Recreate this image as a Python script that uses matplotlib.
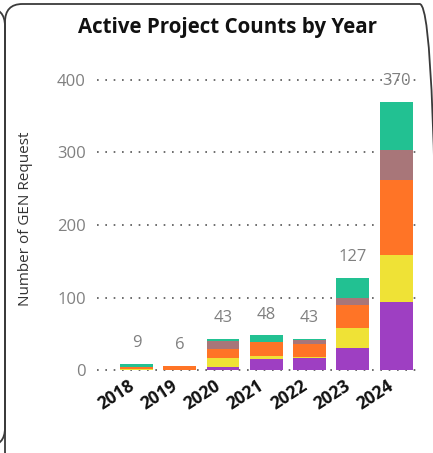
import matplotlib
matplotlib.use("Agg")
import matplotlib.pyplot as plt
from matplotlib.patches import FancyBboxPatch
import matplotlib.transforms as mtransforms
import numpy as np

years = ["2018", "2019", "2020", "2021", "2022", "2023", "2024"]
purple = [0, 0, 4, 15, 16, 31, 94]
yellow = [1, 0, 12, 4, 2, 27, 65]
orange = [3, 6, 13, 19, 18, 32, 103]
brown = [0, 0, 11, 0, 5, 10, 42]
green = [5, 0, 3, 10, 2, 27, 66]
totals = [9, 6, 43, 48, 43, 127, 370]
series = [purple, yellow, orange, brown, green]
colors = ["#9E3FC2", "#EFE236", "#FF7426", "#A87679", "#22C192"]

plt.rcParams['font.family'] = ['Open Sans', 'DejaVu Sans']

fig = plt.figure(figsize=(4.33, 4.53), dpi=100)
W, H = 433, 453

card = FancyBboxPatch((5 / W, 1 - 470 / H), 432 / W, 466 / H,
                      boxstyle="round,pad=0,rounding_size=0.04",
                      transform=fig.transFigure, fill=False,
                      edgecolor="#3a3a3a", linewidth=1.3, zorder=0)
fig.patches.append(card)
card2 = FancyBboxPatch((-200 / W, 1 - 446 / H), 205 / W, 438 / H,
                       boxstyle="round,pad=0,rounding_size=0.04",
                       transform=fig.transFigure, fill=False,
                       edgecolor="#3a3a3a", linewidth=1.3, zorder=0)
fig.patches.append(card2)

ax = fig.add_axes([97 / W, 1 - 371.5 / H, 323 / W, 299.5 / H])
x = np.arange(len(years))
bottom = np.zeros(len(years))
for vals, c in zip(series, colors):
    ax.bar(x, vals, bottom=bottom, color=c, width=0.76, zorder=3)
    bottom += np.array(vals)

for xi, t in zip(x, totals):
    ax.annotate(str(t), (xi, t), xytext=(0, 9), textcoords="offset points",
                ha="center", va="bottom", fontsize=12, color="#808080", zorder=1)

ax.set_xlim(-0.91, 6.55)
ax.set_ylim(-2, 411)
ax.set_yticks([0, 100, 200, 300, 400])
ax.yaxis.grid(True, linestyle=(0, (1, 4)), color="#555555", linewidth=1.2, zorder=0)
ax.set_axisbelow(True)
for s in ax.spines.values():
    s.set_visible(False)
ax.tick_params(axis="y", length=0, pad=8, labelsize=12, labelcolor="#808080")
ax.tick_params(axis="x", length=0, pad=4)
ax.set_xticks(x)
ax.set_xticklabels(years, rotation=33, ha="right", rotation_mode="anchor",
                   fontsize=12.5, fontweight="bold", color="#111111")
shift = mtransforms.ScaledTranslation(-9 / 100, 0, fig.dpi_scale_trans)
for lbl in ax.get_xticklabels():
    lbl.set_transform(lbl.get_transform() + shift)

ax.set_ylabel("Number of GEN Request", fontsize=11, color="#333333")
ax.yaxis.set_label_coords(33 / W, 1 - 219 / H, transform=fig.transFigure)

fig.text(227 / W, 1 - 28 / H, "Active Project Counts by Year", ha="center", va="center",
         fontsize=14.8, fontweight="bold", color="#111111")

fig.savefig("out.png", dpi=100)
